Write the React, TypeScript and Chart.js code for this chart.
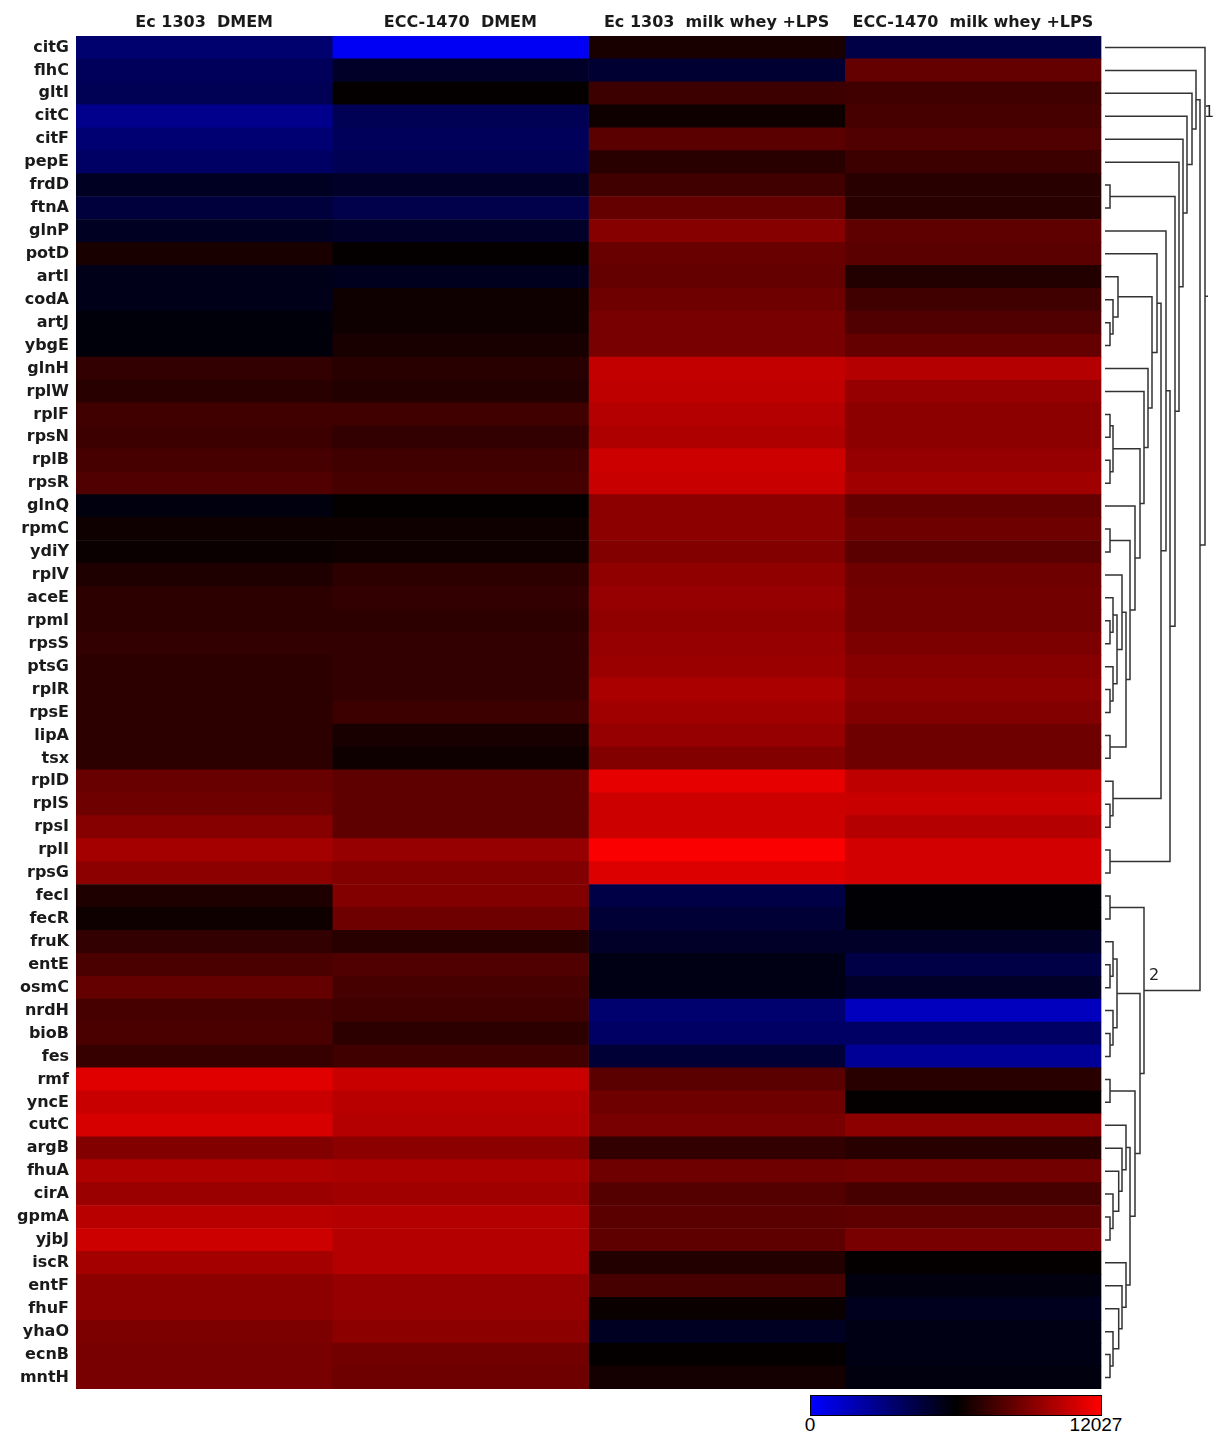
import React, { useEffect, useRef } from 'react';
import { Chart, registerables } from 'chart.js';

Chart.register(...registerables);

// ---------------- data ----------------
const genes = [
  'citG', 'flhC', 'gltI', 'citC', 'citF', 'pepE', 'frdD', 'ftnA', 'glnP', 'potD',
  'artI', 'codA', 'artJ', 'ybgE', 'glnH', 'rplW', 'rplF', 'rpsN', 'rplB', 'rpsR',
  'glnQ', 'rpmC', 'ydiY', 'rplV', 'aceE', 'rpmI', 'rpsS', 'ptsG', 'rplR', 'rpsE',
  'lipA', 'tsx', 'rplD', 'rplS', 'rpsI', 'rplI', 'rpsG', 'fecI', 'fecR', 'fruK',
  'entE', 'osmC', 'nrdH', 'bioB', 'fes', 'rmf', 'yncE', 'cutC', 'argB', 'fhuA',
  'cirA', 'gpmA', 'yjbJ', 'iscR', 'entF', 'fhuF', 'yhaO', 'ecnB', 'mntH',
];

const columnLabels = [
  'Ec 1303  DMEM',
  'ECC-1470  DMEM',
  'Ec 1303  milk whey +LPS',
  'ECC-1470  milk whey +LPS',
];

const ec1303Dmem = [
  3420, 3892, 4010, 2713, 3302, 3656, 5189, 4599, 5189, 6604,
  5424, 5424, 5778, 5778, 7193, 6957, 7547, 7429, 7665, 7900,
  5660, 6368, 6250, 6721, 7075, 7075, 7193, 7075, 7075, 7075,
  7075, 7075, 8490, 8608, 9197, 9905, 9315, 6721, 6368, 7193,
  7783, 8372, 7665, 7783, 7311, 11320, 10730, 11084, 9079, 10141,
  9669, 10376, 10848, 9905, 9315, 9315, 8962, 8844, 8844,
];

const ecc1470Dmem = [
  237, 5071, 6132, 4010, 3892, 4010, 5071, 4246, 5071, 6132,
  5307, 6368, 6368, 6604, 6957, 6839, 7547, 7193, 7547, 7665,
  6132, 6368, 6368, 7075, 7193, 7075, 7193, 7193, 7193, 7429,
  6604, 6368, 8254, 8254, 8254, 9551, 9079, 9079, 8608, 6957,
  7900, 7665, 7547, 7075, 7547, 10730, 10376, 10258, 9315, 10023,
  9787, 10258, 10258, 10258, 9551, 9551, 9315, 8726, 8608,
];

const ec1303Milk = [
  6604, 4835, 7429, 6368, 8136, 6957, 7547, 8372, 9197, 8490,
  8372, 8608, 8844, 8844, 10612, 10494, 10258, 10141, 10848, 10730,
  9315, 9315, 9079, 9433, 9551, 9433, 9551, 9669, 10023, 9787,
  9551, 9079, 11437, 10848, 10848, 11909, 11202, 4363, 4717, 5071,
  5542, 5542, 3420, 3656, 4717, 8136, 8608, 8844, 7193, 8608,
  8018, 8136, 8254, 6839, 7665, 6250, 5189, 6132, 6486,
];

const ecc1470Milk = [
  4363, 8372, 7547, 7665, 7900, 7429, 6957, 6957, 8254, 8136,
  6839, 7547, 7900, 8372, 10258, 9551, 9315, 9315, 9551, 9787,
  8372, 8608, 8136, 8608, 8726, 8726, 8962, 9197, 9315, 9079,
  8608, 8608, 10494, 10730, 10258, 10966, 10966, 5896, 5896, 5071,
  4363, 5071, 1534, 3656, 2477, 6957, 6132, 9315, 6957, 8726,
  7665, 8254, 8844, 6132, 5660, 5307, 5542, 5542, 5660,
];

const colorScaleMin = 0;
const colorScaleMax = 12027;

// dendrogram linkage: [childA, childB, height]; indices < 59 are rows,
// index 59 + k refers to the k-th merge (scipy linkage convention)
const dendroMerges: [number, number, number][] = [
  [6, 7, 5], [12, 13, 5], [11, 60, 8], [10, 61, 13], [16, 17, 5],
  [18, 19, 5], [63, 64, 8], [21, 22, 5], [25, 26, 5], [24, 67, 8],
  [28, 29, 5], [27, 69, 8], [68, 70, 12], [23, 71, 17], [30, 31, 5],
  [72, 73, 21], [66, 74, 25], [20, 75, 30], [65, 76, 35], [15, 77, 39],
  [14, 78, 43], [62, 79, 47], [9, 80, 52], [33, 34, 5], [32, 82, 8],
  [81, 83, 56], [8, 84, 61], [35, 36, 5], [85, 86, 65], [59, 87, 70],
  [5, 88, 74], [4, 89, 78], [3, 90, 82], [2, 91, 87], [1, 92, 91],
  [45, 46, 5], [51, 52, 5], [50, 95, 8], [49, 96, 13.7], [48, 97, 17],
  [47, 98, 21], [57, 58, 5], [56, 100, 8], [55, 101, 13.7], [54, 102, 17],
  [53, 103, 21], [99, 104, 25], [94, 105, 30], [40, 41, 5], [39, 107, 8],
  [43, 44, 5], [42, 109, 8], [108, 110, 12], [111, 106, 35], [37, 38, 5],
  [113, 112, 39], [93, 114, 95], [0, 115, 100],
];
const rootStubLength = 3;

const clusterLabels = [
  { text: '1', height: 104, row: 3.36 },
  { text: '2', height: 49, row: 41.0 },
];

// ---------------- layout constants ----------------
const CANVAS_W = 1215;
const CANVAS_H = 1392;
const AREA_LEFT = 76;
const AREA_TOP = 36;
const AREA_RIGHT = 1213;
const AREA_BOTTOM = 1389;
const HEAT_RIGHT = 1101;
const DENDRO_LEFT = 1105;

function heatColor(v: number): string {
  const t = Math.max(0, Math.min(1, (v - colorScaleMin) / (colorScaleMax - colorScaleMin)));
  if (t < 0.5) {
    const b = Math.round(255 * (1 - 2 * t));
    return `rgb(0,0,${b})`;
  }
  const r = Math.round(255 * (2 * t - 1));
  return `rgb(${r},0,0)`;
}

function buildDendrogram() {
  const n = genes.length;
  const pos: number[] = [];
  const hgt: number[] = [];
  for (let i = 0; i < n; i++) {
    pos[i] = i + 0.5;
    hgt[i] = 0;
  }
  const pts: { x: number; y: number | null }[] = [];
  dendroMerges.forEach(([a, b, h], k) => {
    pts.push({ x: hgt[a], y: pos[a] });
    pts.push({ x: h, y: pos[a] });
    pts.push({ x: h, y: pos[b] });
    pts.push({ x: hgt[b], y: pos[b] });
    pts.push({ x: 0, y: null });
    pos[n + k] = (pos[a] + pos[b]) / 2;
    hgt[n + k] = h;
  });
  const root = n + dendroMerges.length - 1;
  pts.push({ x: hgt[root], y: pos[root] });
  pts.push({ x: hgt[root] + rootStubLength, y: pos[root] });
  return pts;
}

const labelPlugin = {
  id: 'clusterLabels',
  afterDatasetsDraw(chart: any) {
    const xs = chart.scales.x2;
    const ys = chart.scales.y2;
    const ctx = chart.ctx;
    ctx.save();
    ctx.fillStyle = '#222';
    ctx.font = '16px "DejaVu Sans", sans-serif';
    ctx.textAlign = 'center';
    ctx.textBaseline = 'middle';
    clusterLabels.forEach((l) => {
      ctx.fillText(l.text, xs.getPixelForValue(l.height), ys.getPixelForValue(l.row));
    });
    ctx.restore();
  },
};

const zeroPad = (scale: any) => {
  scale.paddingLeft = 0;
  scale.paddingRight = 0;
  scale.paddingTop = 0;
  scale.paddingBottom = 0;
};

export default function App() {
  const ref = useRef<HTMLCanvasElement | null>(null);

  useEffect(() => {
    if (!ref.current) return;
    const series = [ec1303Dmem, ecc1470Dmem, ec1303Milk, ecc1470Milk];
    const xMax = (4 * (AREA_RIGHT - AREA_LEFT)) / (HEAT_RIGHT - AREA_LEFT);
    const barSets = series.map((vals, c) => ({
      type: 'bar' as const,
      label: columnLabels[c],
      xAxisID: 'x',
      yAxisID: 'y',
      data: vals.map(() => [c, c + 1]),
      backgroundColor: vals.map((v) => heatColor(v)),
      borderWidth: 0,
      barPercentage: 1,
      categoryPercentage: 1,
      grouped: false,
      order: 2,
    }));
    const dendroSet = {
      type: 'line' as const,
      label: 'dendrogram',
      xAxisID: 'x2',
      yAxisID: 'y2',
      indexAxis: 'x' as const,
      data: buildDendrogram(),
      borderColor: '#333',
      borderWidth: 1.5,
      pointRadius: 0,
      pointHoverRadius: 0,
      fill: false,
      spanGaps: false,
      tension: 0,
      order: 1,
    };

    const chart = new Chart(ref.current, {
      type: 'bar',
      data: {
        labels: genes,
        datasets: [...barSets, dendroSet] as any,
      },
      options: {
        indexAxis: 'y',
        animation: false,
        responsive: false,
        maintainAspectRatio: false,
        devicePixelRatio: 1,
        layout: {
          padding: { left: 0, top: 0, right: CANVAS_W - AREA_RIGHT, bottom: CANVAS_H - AREA_BOTTOM },
        },
        plugins: {
          legend: { display: false },
          tooltip: { enabled: false },
        },
        scales: {
          x: {
            type: 'linear',
            position: 'top',
            offset: false,
            min: 0,
            max: xMax,
            grid: { display: false, drawTicks: false, offset: false },
            border: { display: false },
            afterBuildTicks: (scale: any) => {
              scale.ticks = columnLabels.map((_, i) => ({ value: i + 0.5 }));
            },
            afterFit: (scale: any) => {
              scale.height = AREA_TOP;
              zeroPad(scale);
            },
            ticks: {
              autoSkip: false,
              maxRotation: 0,
              minRotation: 0,
              padding: 4,
              color: '#1a1a1a',
              font: { family: '"DejaVu Sans", sans-serif', size: 16, weight: 'bold' },
              callback: (value: any) => columnLabels[Math.round(Number(value) - 0.5)] ?? '',
            },
          },
          y: {
            type: 'category',
            position: 'left',
            offset: true,
            grid: { display: false, drawTicks: false },
            border: { display: false },
            afterFit: (scale: any) => {
              scale.width = AREA_LEFT;
              zeroPad(scale);
            },
            ticks: {
              autoSkip: false,
              padding: 7,
              color: '#1a1a1a',
              font: { family: '"DejaVu Sans", sans-serif', size: 16, weight: 'bold' },
            },
          },
          x2: {
            type: 'linear',
            display: false,
            offset: false,
            min: AREA_LEFT - DENDRO_LEFT,
            max: AREA_RIGHT - DENDRO_LEFT,
          },
          y2: {
            type: 'linear',
            display: false,
            offset: false,
            reverse: true,
            min: 0,
            max: genes.length,
          },
        },
      } as any,
      plugins: [labelPlugin],
    });
    return () => chart.destroy();
  }, []);

  return (
    <div style={{ position: 'absolute', left: 0, top: 0, width: CANVAS_W, height: 1434, background: '#fff' }}>
      <canvas
        ref={ref}
        width={CANVAS_W}
        height={CANVAS_H}
        style={{ position: 'absolute', left: 0, top: 0, width: CANVAS_W, height: CANVAS_H }}
      />
      <div
        style={{
          position: 'absolute',
          left: 810,
          top: 1395,
          width: 290,
          height: 19,
          border: '1px solid #000',
          background: 'linear-gradient(to right, rgb(0,0,255), rgb(0,0,0), rgb(255,0,0))',
        }}
      />
      <div
        style={{
          position: 'absolute',
          left: 790,
          top: 1414,
          width: 40,
          textAlign: 'center',
          font: '19px "Liberation Sans", Arial, sans-serif',
          color: '#000',
        }}
      >
        {colorScaleMin}
      </div>
      <div
        style={{
          position: 'absolute',
          left: 1056,
          top: 1414,
          width: 80,
          textAlign: 'center',
          font: '19px "Liberation Sans", Arial, sans-serif',
          color: '#000',
        }}
      >
        {colorScaleMax}
      </div>
    </div>
  );
}
